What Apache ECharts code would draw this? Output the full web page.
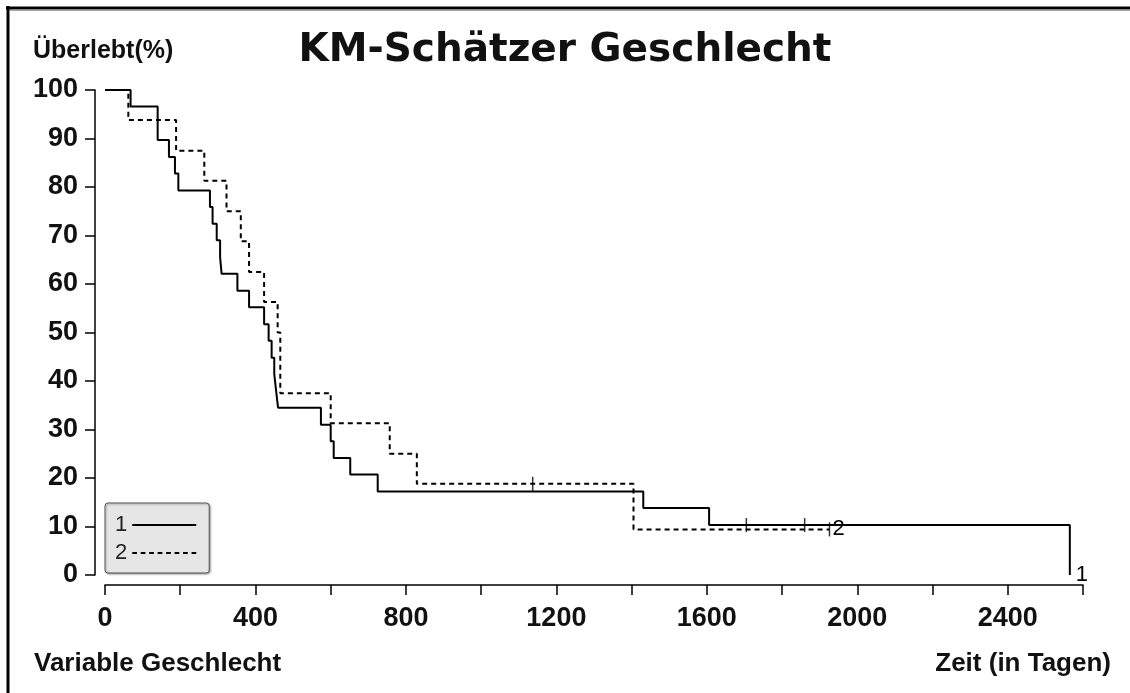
<!DOCTYPE html>
<html>
<head>
<meta charset="utf-8">
<script src="https://cdn.jsdelivr.net/npm/echarts@6/dist/echarts.min.js"></script>
<style>
  html, body { margin: 0; padding: 0; background: #fff; }
  #chart { width: 1130px; height: 693px; }
</style>
</head>
<body>
<div id="chart"></div>
<script>
// Gruppe 1 (durchgezogen): Ereigniszeiten in Tagen und Überlebensrate in %
var times1 = [0, 68, 140, 170, 186, 195, 279, 286, 297, 306, 310, 352, 383, 423, 435, 443, 450, 455, 460, 574, 600, 608, 652, 725, 1431, 1606, 2565];
var surv1 = [100, 96.6, 89.7, 86.2, 82.8, 79.3, 75.9, 72.4, 69.0, 65.5, 62.1, 58.6, 55.2, 51.7, 48.3, 44.8, 41.4, 37.9, 34.5, 31.0, 27.6, 24.1, 20.7, 17.2, 13.8, 10.3, 0];
// Gruppe 2 (gestrichelt)
var times2 = [0, 62, 189, 264, 323, 361, 383, 423, 459, 466, 600, 757, 829, 1405, 1926];
var surv2 = [100, 93.8, 87.5, 81.3, 75.0, 68.8, 62.5, 56.3, 50.0, 37.5, 31.3, 25.0, 18.8, 9.4, 9.4];
// zensierte Fälle
var censTimes1 = [1705, 1860];
var censSurv1 = [10.3, 10.3];
var censTimes2 = [1137, 1926];
var censSurv2 = [18.8, 9.4];

var groups = ['1', '2'];
var xTicks = [0, 400, 800, 1200, 1600, 2000, 2400];

var zip = function (xs, ys) {
    return xs.map(function (x, i) { return [x, ys[i]]; });
};

// Legendensymbole: durchgezogene bzw. gestrichelte Linie
var solidIcon = 'path://M0,0h64v2h-64z';
var dashIcon = 'path://';
for (var d = 0; d < 64; d += 9) {
    dashIcon += 'M' + d + ',0h5v2h-5z';
}

var textFont = '"Liberation Sans", Arial, sans-serif';

var chart = echarts.init(document.getElementById('chart'));

chart.setOption({
    animation: false,
    backgroundColor: '#fff',
    title: [{
        text: 'KM-Schätzer Geschlecht',
        left: 'center',
        top: 31,
        padding: 0,
        textStyle: { fontFamily: '"DejaVu Sans", sans-serif', fontWeight: 'bold', fontSize: 39, color: '#111' }
    }, {
        text: 'Überlebt(%)',
        left: 33,
        top: 39,
        padding: 0,
        textStyle: { fontFamily: textFont, fontWeight: 'bold', fontSize: 25, color: '#111' }
    }, {
        text: 'Variable Geschlecht',
        left: 34,
        top: 651,
        padding: 0,
        textStyle: { fontFamily: textFont, fontWeight: 'bold', fontSize: 26, color: '#111' }
    }, {
        text: 'Zeit (in Tagen)',
        right: 19,
        top: 651,
        padding: 0,
        textStyle: { fontFamily: textFont, fontWeight: 'bold', fontSize: 26, color: '#111' }
    }],
    legend: {
        data: [{ name: groups[0], icon: solidIcon }, { name: groups[1], icon: dashIcon }],
        orient: 'vertical',
        left: 105,
        top: 503,
        align: 'right',
        padding: [11, 13, 9, 10],
        itemGap: 6,
        itemWidth: 64,
        itemHeight: 2,
        itemStyle: { color: '#000', borderWidth: 0 },
        backgroundColor: '#e6e6e6',
        borderColor: '#555',
        borderWidth: 1,
        borderRadius: 3,
        shadowBlur: 2,
        shadowColor: 'rgba(0,0,0,0.35)',
        shadowOffsetX: 1,
        shadowOffsetY: 1,
        textStyle: { fontFamily: textFont, fontSize: 22, color: '#222', lineHeight: 22 }
    },
    grid: { left: 105, right: 47, top: 90, bottom: 118, containLabel: false },
    xAxis: {
        type: 'value',
        min: 0,
        max: 2600,
        interval: 200,
        offset: 10,
        splitLine: { show: false },
        axisLine: { onZero: false, lineStyle: { color: '#000', width: 1.5 } },
        axisTick: { length: 10, lineStyle: { color: '#000', width: 1.5 } },
        axisLabel: {
            margin: 20,
            fontFamily: textFont,
            fontWeight: 'bold',
            fontSize: 27,
            lineHeight: 27,
            color: '#111',
            formatter: function (v) { return xTicks.indexOf(v) >= 0 ? String(v) : ''; }
        }
    },
    yAxis: {
        type: 'value',
        min: 0,
        max: 100,
        interval: 10,
        offset: 10,
        splitLine: { show: false },
        axisLine: { show: true, onZero: false, lineStyle: { color: '#000', width: 1.5 } },
        axisTick: { show: true, length: 10, lineStyle: { color: '#000', width: 1.5 } },
        axisLabel: {
            margin: 17,
            fontFamily: textFont,
            fontWeight: 'bold',
            fontSize: 27,
            lineHeight: 27,
            color: '#111'
        }
    },
    graphic: [
        { type: 'line', shape: { x1: 6, y1: 8, x2: 1130, y2: 8 }, style: { stroke: '#000', lineWidth: 3 } },
        { type: 'line', shape: { x1: 8, y1: 6, x2: 8, y2: 693 }, style: { stroke: '#000', lineWidth: 3 } },
        { type: 'line', shape: { x1: 10, y1: 10.5, x2: 1130, y2: 10.5 }, style: { stroke: '#aaa', lineWidth: 1 } }
    ],
    series: [{
        name: '1',
        type: 'line',
        step: 'end',
        symbol: 'none',
        data: zip(times1, surv1),
        lineStyle: { color: '#000', width: 2, type: 'solid' },
        itemStyle: { color: '#000' },
        endLabel: {
            show: true,
            formatter: '1',
            distance: 6,
            fontFamily: textFont,
            fontSize: 22,
            color: '#000'
        }
    }, {
        name: '2',
        type: 'line',
        step: 'end',
        symbol: 'none',
        data: zip(times2, surv2),
        lineStyle: { color: '#000', width: 2, type: [5, 4] },
        itemStyle: { color: '#000' },
        endLabel: {
            show: true,
            formatter: '2',
            distance: 3,
            fontFamily: textFont,
            fontSize: 22,
            color: '#000'
        }
    }, {
        name: 'zensiert 1',
        type: 'scatter',
        symbol: 'rect',
        symbolSize: [1.5, 14],
        itemStyle: { color: '#000' },
        data: zip(censTimes1, censSurv1),
        z: 5
    }, {
        name: 'zensiert 2',
        type: 'scatter',
        symbol: 'rect',
        symbolSize: [1.5, 14],
        itemStyle: { color: '#000' },
        data: zip(censTimes2, censSurv2),
        z: 5
    }]
});
</script>
</body>
</html>
